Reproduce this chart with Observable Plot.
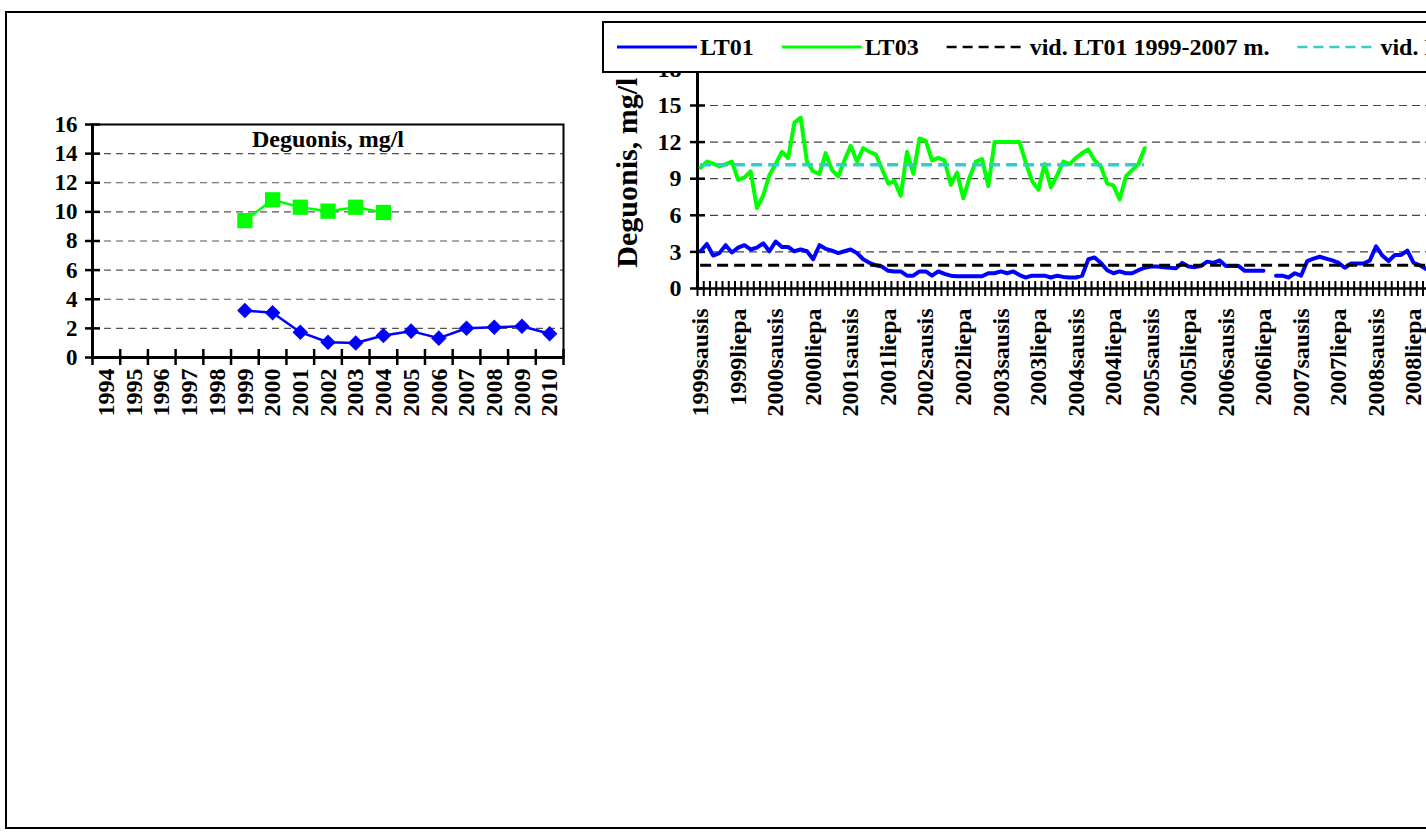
<!DOCTYPE html>
<html><head><meta charset="utf-8">
<script src="https://cdn.jsdelivr.net/npm/d3@7"></script>
<script src="https://cdn.jsdelivr.net/npm/@observablehq/plot@0.6"></script>
<style>
html,body{margin:0;padding:0;background:#fff;overflow:hidden;width:1426px;height:832px;}
#frame{position:absolute;left:5px;top:11px;width:1600px;height:818px;border:2px solid #000;box-sizing:border-box;}
.layer{position:absolute;left:0;top:0;}
</style></head><body>
<div id="frame"></div>
<div id="left" class="layer"></div>
<div id="right" class="layer"></div>
<div id="legend" class="layer"></div>
<script>
// ---------- data ----------
const years = ["1994","1995","1996","1997","1998","1999","2000","2001","2002","2003","2004","2005","2006","2007","2008","2009","2010"];
const lt01Annual = [null,null,null,null,null,3.23,3.07,1.74,1.05,1.0,1.51,1.81,1.33,2.01,2.08,2.15,1.63];
const lt03Annual = [null,null,null,null,null,9.4,10.83,10.32,10.05,10.32,9.96,null,null,null,null,null,null];
const yTicksAnnual = [0,2,4,6,8,10,12,14,16];

const monthNames = ["sausis","vasaris","kovas","balandis","gegužė","birželis","liepa","rugpjūtis","rugsėjis","spalis","lapkritis","gruodis"];
const monthYears = [1999,2000,2001,2002,2003,2004,2005,2006,2007,2008,2009,2010];
const monthCategories = monthYears.flatMap(y => monthNames.map(m => y + m));
const lt01Monthly = [
  3.05,3.65,2.7,2.9,3.55,2.95,3.35,3.55,3.2,3.35,3.7,3.05,
  3.85,3.4,3.4,3.05,3.2,3.05,2.4,3.55,3.25,3.1,2.9,3.05,
  3.2,2.9,2.4,2.1,1.9,1.8,1.45,1.4,1.4,1.05,1.05,1.4,
  1.4,1.05,1.4,1.2,1.05,1.0,1.0,1.0,1.0,1.0,1.25,1.25,
  1.4,1.25,1.4,1.1,0.9,1.05,1.05,1.05,0.9,1.05,0.95,0.9,
  0.9,1.05,2.4,2.55,2.1,1.5,1.25,1.4,1.25,1.25,1.5,1.7,
  1.8,1.8,1.75,1.7,1.65,2.1,1.8,1.75,1.85,2.2,2.1,2.3,
  1.85,1.85,1.85,1.45,1.45,1.45,1.45,null,1.05,1.05,0.9,1.25,
  1.05,2.25,2.45,2.6,2.45,2.3,2.1,1.7,2.05,2.05,2.05,2.3,
  3.45,2.7,2.25,2.75,2.75,3.1,2.1,1.9,1.6
];
const lt03Monthly = [
  9.9,10.4,10.25,10.0,10.2,10.4,8.9,9.1,9.6,6.6,7.6,9.3,
  10.2,11.2,10.7,13.6,14.0,10.4,9.6,9.4,11.1,9.7,9.2,10.5,
  11.7,10.4,11.5,11.2,11.0,9.8,8.6,8.8,7.6,11.2,9.4,12.3,
  12.1,10.5,10.7,10.5,8.5,9.5,7.4,9.1,10.4,10.6,8.4,12.0,
  12.0,12.0,12.0,12.0,10.3,8.8,8.1,10.2,8.3,9.3,10.4,10.2,
  10.7,11.1,11.4,10.5,10.0,8.6,8.45,7.3,9.2,9.7,10.2,11.5
];
const meanLT01 = 1.9;   // vid. LT01 1999-2007 m.
const meanLT03 = 10.15; // vid. LT03 1999-2004 m.
const yTicksMonthly = [0,3,6,9,12,15,18];
const legendItems = [
  {label:"LT01", color:"#0000ff", dash:null},
  {label:"LT03", color:"#00ff00", dash:null},
  {label:"vid. LT01 1999-2007 m.", color:"#000000", dash:"10,6"},
  {label:"vid. LT03 1999-2004 m.", color:"#33cccc", dash:"10,6"}
];

// ---------- common ----------
const serif = '"Liberation Serif","Times New Roman",serif';
const svgStyle = {fontFamily: serif, fontWeight: "bold", fontSize: "23px", color: "#000", background: "transparent", maxWidth: "none", overflow: "visible"};

// ---------- left annual chart ----------
const annual = years.map((year, i) => ({i, year, lt01: lt01Annual[i], lt03: lt03Annual[i]}));
const left = Plot.plot({
  width: 600, height: 460,
  marginLeft: 92, marginRight: 37, marginTop: 124, marginBottom: 103,
  x: {type: "linear", domain: [0, years.length], axis: null, label: null},
  y: {domain: [0, 16], axis: null, label: null},
  style: svgStyle,
  marks: [
    Plot.ruleY(yTicksAnnual.filter(v => v > 0 && v < 16), {stroke: "#555", strokeWidth: 1.2, strokeDasharray: "7,5"}),
    Plot.frame({stroke: "#000", strokeWidth: 2}),
    Plot.ruleX([0], {stroke: "#000", strokeWidth: 3}),
    Plot.ruleY([0], {stroke: "#000", strokeWidth: 3}),
    Plot.axisY({ticks: yTicksAnnual, tickSize: 15, dx: 8, tickFormat: () => "", strokeWidth: 2.5, label: null}),
    Plot.axisY({ticks: yTicksAnnual, tickSize: 0, tickPadding: 15, fontSize: 23, label: null}),
    Plot.axisX({ticks: d3.range(years.length + 1), tickSize: 16, dy: -8, tickFormat: () => "", strokeWidth: 2.5, label: null}),
    Plot.axisX({ticks: years.map((_, i) => i + 0.5), tickFormat: v => years[Math.floor(v)], tickRotate: -90, tickSize: 0, tickPadding: 11, fontSize: 24, label: null}),
    Plot.line(annual, {x: d => d.i + 0.5, y: "lt03", stroke: "#00ff00", strokeWidth: 2.5}),
    Plot.dot(annual, {x: d => d.i + 0.5, y: "lt03", symbol: "square", r: 8.6, fill: "#00ff00"}),
    Plot.line(annual, {x: d => d.i + 0.5, y: "lt01", stroke: "#0000ff", strokeWidth: 2.5}),
    Plot.dot(annual, {x: d => d.i + 0.5, y: "lt01", symbol: "diamond2", r: 7, fill: "#0000ff"}),
    Plot.text(["Deguonis, mg/l"], {frameAnchor: "top", textAnchor: "middle", lineAnchor: "top", dy: 5, fontSize: 24})
  ]
});
document.getElementById("left").appendChild(left);

// ---------- right monthly chart ----------
const monthly = monthCategories.map((label, i) => ({
  i, label,
  lt01: i < lt01Monthly.length ? lt01Monthly[i] : null,
  lt03: i < lt03Monthly.length ? lt03Monthly[i] : null
}));
const right = Plot.plot({
  width: 1620, height: 460,
  marginLeft: 697, marginRight: 22.4, marginTop: 68.4, marginBottom: 172,
  x: {type: "linear", domain: [0, monthCategories.length], axis: null, label: null},
  y: {domain: [0, 18], axis: null, label: null},
  style: svgStyle,
  marks: [
    Plot.ruleY(yTicksMonthly.filter(v => v > 0), {stroke: "#444", strokeWidth: 1.2, strokeDasharray: "8,5"}),
    Plot.ruleX([0], {stroke: "#000", strokeWidth: 3}),
    Plot.ruleY([0], {stroke: "#000", strokeWidth: 2.5}),
    Plot.axisY({ticks: yTicksMonthly, tickSize: 15, dx: 8, tickFormat: () => "", strokeWidth: 2.5, label: null}),
    Plot.axisY({ticks: yTicksMonthly, tickSize: 0, tickPadding: 16, fontSize: 24, label: null}),
    Plot.axisX({ticks: d3.range(monthCategories.length + 1), tickSize: 15, dy: -7, tickFormat: () => "", strokeWidth: 2, label: null}),
    Plot.axisX({ticks: monthCategories.map((_, i) => i).filter(i => i % 6 === 0).map(i => i + 0.5),
      tickFormat: v => monthCategories[Math.floor(v)], tickRotate: -90, tickSize: 0, tickPadding: 20, fontSize: 24, label: null}),
    Plot.line(monthly, {x: d => d.i + 0.5, y: "lt01", stroke: "#0000ff", strokeWidth: 4}),
    Plot.line(monthly, {x: d => d.i + 0.5, y: "lt03", stroke: "#00ff00", strokeWidth: 4}),
    Plot.ruleY([meanLT01], {x1: 0.5, x2: monthCategories.length - 0.5, stroke: "#000", strokeWidth: 3, strokeDasharray: "11,6"}),
    Plot.ruleY([meanLT03], {x1: 0.5, x2: lt03Monthly.length - 0.5, stroke: "#33cccc", strokeWidth: 3.5, strokeDasharray: "11,6"}),
    Plot.text(["Deguonis, mg/l"], {frameAnchor: "left", rotate: -90, textAnchor: "middle", dx: -70, dy: -6, fontSize: 30})
  ]
});
document.getElementById("right").appendChild(right);

// ---------- legend ----------
const lg = d3.select("#legend").append("svg")
  .attr("width", 1700).attr("height", 80)
  .style("display", "block").style("overflow", "visible")
  .style("font-family", serif).style("font-weight", "bold").style("font-size", "24px");
lg.append("rect").attr("x", 603).attr("y", 22).attr("width", 1000).attr("height", 50)
  .attr("fill", "#fff").attr("stroke", "#000").attr("stroke-width", 2);
let lx = 617;
for (const it of legendItems) {
  lg.append("line").attr("x1", lx).attr("x2", lx + 80).attr("y1", 47).attr("y2", 47)
    .attr("stroke", it.color).attr("stroke-width", it.dash ? 2.5 : 3)
    .attr("stroke-dasharray", it.dash);
  const t = lg.append("text").attr("x", lx + 83).attr("y", 55).attr("fill", "#000").text(it.label);
  lx = lx + 83 + t.node().getComputedTextLength() + 28;
}
</script>
</body></html>
